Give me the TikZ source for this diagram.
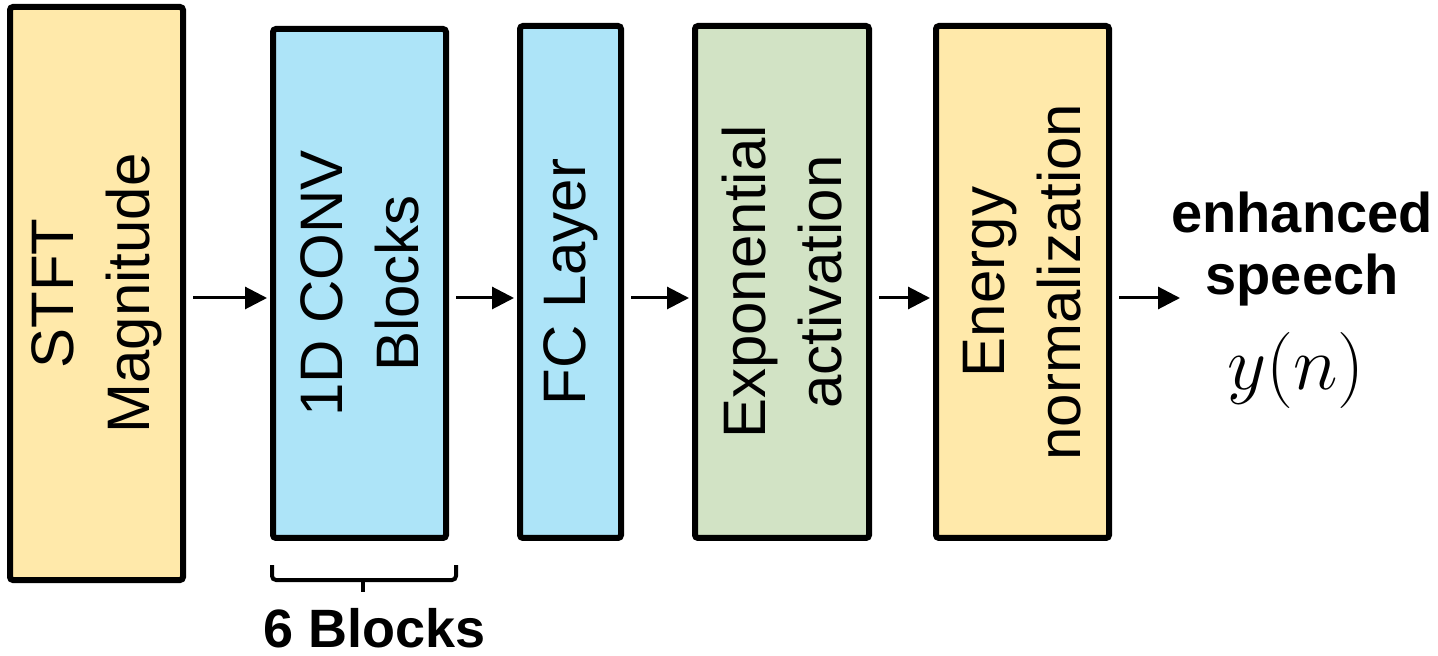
\documentclass[tikz,border=0pt]{standalone}
\usepackage{amsmath}
\usepackage{fontspec}
\setmainfont{Liberation Sans}
\usetikzlibrary{arrows.meta}
\usetikzlibrary{positioning}
\definecolor{stftfill}{HTML}{FFE9AA}
\definecolor{convfill}{HTML}{ADE4F8}
\definecolor{expfill}{HTML}{D2E3C5}
\tikzset{blk/.style = {draw, line width = 3pt, rounded corners = 1.5pt, inner sep = 0}}
\tikzset{lbl/.style = {rotate = 90, align = center, inner sep = 0, font = \fontsize{30}{38}\selectfont}}
\tikzset{arr/.style = {line width = 1.5pt, -{Triangle[length = 11pt, width = 11pt]}, shorten <= 3.5pt}}

\begin{document}
\begin{tikzpicture}[x = 0.5pt, y = -0.5pt]
      \useasboundingbox (0, 0) rectangle (1438, 656);
      \node [blk, fill = stftfill, minimum width = 86.5pt, minimum height = 286.5pt] (stft) at (96.5, 293.5) {};
      \node [blk, fill = convfill, minimum width = 86.5pt, minimum height = 254.5pt] (conv) at (359.5, 283.5) {};
      \node [blk, fill = convfill, minimum width = 50.5pt, minimum height = 256pt] (fc) at (570.5, 282) {};
      \node [blk, fill = expfill, minimum width = 87pt, minimum height = 256pt] (expo) at (782, 282) {};
      \node [blk, fill = stftfill, minimum width = 86.5pt, minimum height = 256pt] (energy) at (1022.5, 282) {};
      \node [lbl] at (stft) {STFT\\Magnitude};
      \node [lbl] at (conv) {1D CONV\\Blocks};
      \node [lbl] at (fc) {FC Layer};
      \node [lbl] at (expo) {Exponential\\activation};
      \node [lbl] at (energy) {Energy\\normalization};
      \node [align = center, inner sep = 0, anchor = north, font = \bfseries\fontsize{28}{31}\selectfont] (outtxt) at (1302, 192) {enhanced\\speech};
      \node [font = \Huge, scale = 1.53, inner sep = 0] (outsig) at (1296, 370) {$y(n)$};
      \coordinate (lvl) at (0, 298);
      \coordinate (outend) at (1180, 298);
      \draw [arr] (stft.east |- lvl) -- ([xshift = -1.5pt]conv.west |- lvl);
      \draw [arr] (conv.east |- lvl) -- ([xshift = -1.5pt]fc.west |- lvl);
      \draw [arr] (fc.east |- lvl) -- ([xshift = -1.5pt]expo.west |- lvl);
      \draw [arr] (expo.east |- lvl) -- ([xshift = -1.5pt]energy.west |- lvl);
      \draw [arr] (energy.east |- lvl) -- (outend);
      % brace under the conv blocks
      \draw [line width = 2pt, rounded corners = 2pt] ([xshift = 1pt, yshift = -12pt]conv.south west) -- ([xshift = 1pt, yshift = -19.5pt]conv.south west) coordinate (bl) -- ([xshift = 3.5pt, yshift = -19.5pt]conv.south east) -- ([xshift = 3.5pt, yshift = -12pt]conv.south east);
      \draw [line width = 2pt] ([yshift = -19.5pt]conv.south) ++(1.75pt, 0) -- ++(0, -6pt);
      \node [font = \bfseries\fontsize{27}{30}\selectfont] (nblocks) at (375, 628) {6 Blocks};
    \end{tikzpicture}
\end{document}
